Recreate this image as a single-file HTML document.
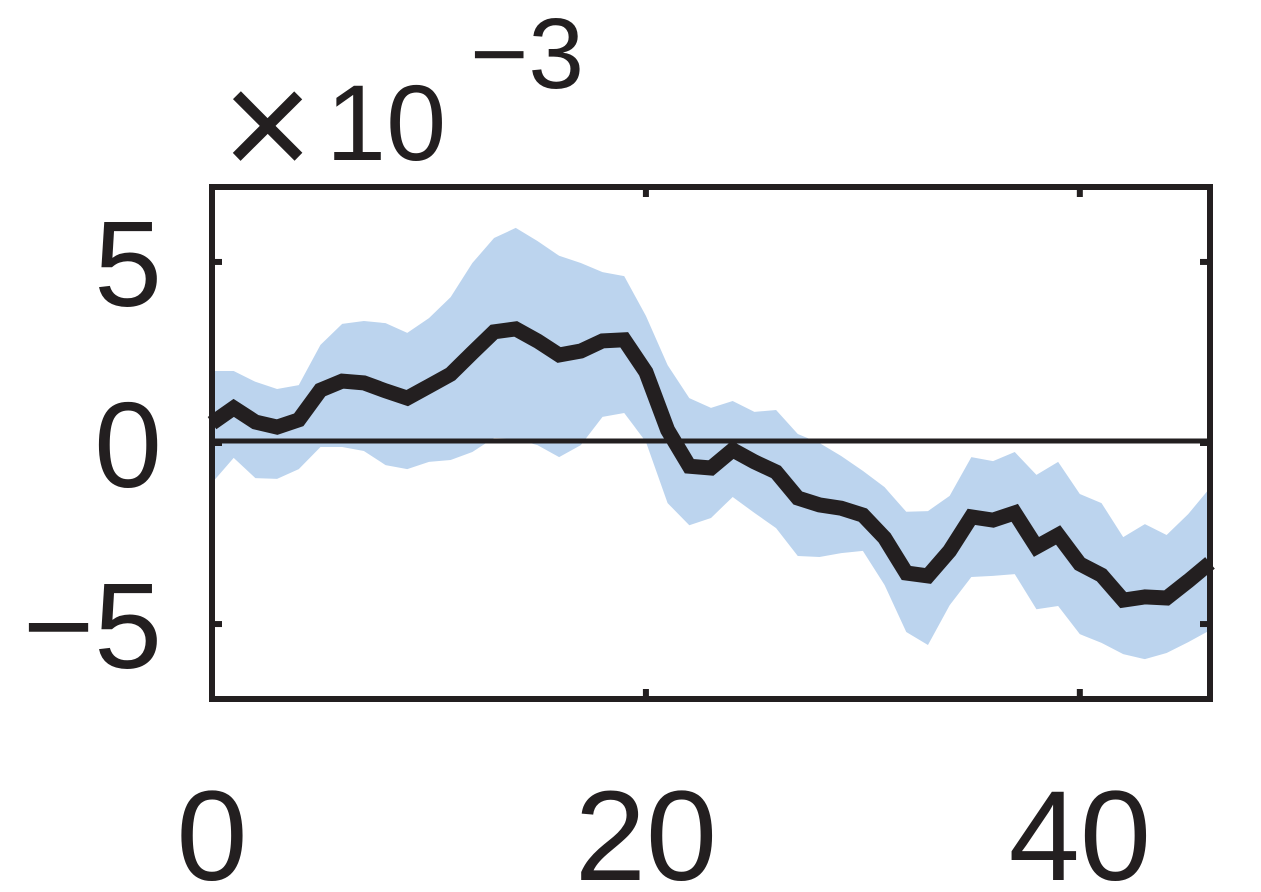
<!DOCTYPE html>
<html><head><meta charset="utf-8"><style>
html,body{margin:0;padding:0;background:#fff;}
svg{display:block;font-family:"Liberation Sans",sans-serif;}
</style></head><body>
<svg id="chart" width="1261" height="892" viewBox="0 0 1261 892" xmlns="http://www.w3.org/2000/svg">
<g id="band-layer"></g>
<line id="zero" stroke="#231f20" stroke-width="5"/>
<g id="line-layer"></g>
<rect x="212" y="187" width="998" height="512" fill="none" stroke="#231f20" stroke-width="6"/>
<g id="ticks"></g>
<g id="labels" fill="#231f20"></g>
<g fill="#231f20">
<text x="222" y="178" font-size="156">×</text>
<text x="326" y="160" font-size="108">10</text>
<text x="470" y="88" font-size="100">−3</text>
</g>
</svg>
<script>
const xs = [0,1,2,3,4,5,6,7,8,9,10,11,12,13,14,15,16,17,18,19,20,21,22,23,24,25,26,27,28,29,30,31,32,33,34,35,36,37,38,39,40,41,42,43,44,45,46];
const meanVals = [0.55,0.97,0.58,0.44,0.64,1.46,1.71,1.66,1.44,1.24,1.57,1.9,2.49,3.07,3.15,2.82,2.43,2.54,2.82,2.85,1.96,0.36,-0.64,-0.69,-0.19,-0.52,-0.8,-1.52,-1.71,-1.8,-1.99,-2.62,-3.59,-3.67,-2.98,-2.04,-2.13,-1.93,-2.87,-2.54,-3.34,-3.65,-4.34,-4.25,-4.28,-3.81,-3.31];
const upperVals = [1.99,1.99,1.69,1.49,1.6,2.71,3.29,3.37,3.31,3.04,3.45,4.03,4.97,5.66,5.94,5.58,5.17,4.97,4.72,4.61,3.51,2.15,1.24,0.97,1.16,0.86,0.91,0.25,0,-0.36,-0.77,-1.22,-1.9,-1.88,-1.46,-0.39,-0.5,-0.25,-0.88,-0.52,-1.41,-1.66,-2.6,-2.24,-2.54,-1.96,-1.24];
const lowerVals = [-1.1,-0.41,-0.97,-0.99,-0.72,-0.11,-0.11,-0.22,-0.61,-0.72,-0.52,-0.47,-0.25,0.14,0.11,-0.06,-0.39,-0.06,0.72,0.83,0.03,-1.66,-2.27,-2.07,-1.49,-1.93,-2.35,-3.12,-3.15,-3.04,-2.98,-3.92,-5.22,-5.58,-4.48,-3.7,-3.67,-3.62,-4.59,-4.5,-5.28,-5.52,-5.83,-5.97,-5.8,-5.5,-5.17];
const xTicks = [0,20,40];
const xTickLabels = ["0","20","40"];
const yTicks = [5,0,-5];
const yTickLabels = ["5","0","−5"];

const X0=212,X1=1210,Y0=187,Y1=699, xmin=0,xmax=46,ymin=-7.07,ymax=7.07;
const sx = v => X0 + (v-xmin)/(xmax-xmin)*(X1-X0);
const sy = v => Y1 - (v-ymin)/(ymax-ymin)*(Y1-Y0);
const NS="http://www.w3.org/2000/svg";
function mk(t,parent){const e=document.createElementNS(NS,t);parent.appendChild(e);return e;}

const bl=document.getElementById('band-layer');
const band=mk('polygon',bl);


let pts=xs.map((x,i)=>sx(x)+','+sy(upperVals[i]));
for(let i=xs.length-1;i>=0;i--) pts.push(sx(xs[i])+','+sy(lowerVals[i]));
band.setAttribute('points',pts.join(' '));
band.setAttribute('fill','#bcd4ee');

const z=document.getElementById('zero');
z.setAttribute('x1',X0);z.setAttribute('x2',X1);z.setAttribute('y1',sy(0)-2);z.setAttribute('y2',sy(0)-2);

const ll=document.getElementById('line-layer');
const line=mk('polyline',ll);


line.setAttribute('points',xs.map((x,i)=>sx(x)+','+sy(meanVals[i])).join(' '));
line.setAttribute('fill','none');line.setAttribute('stroke','#231f20');
line.setAttribute('stroke-width','15');line.setAttribute('stroke-linejoin','miter');

const tk=document.getElementById('ticks'), lb=document.getElementById('labels');
xTicks.forEach((v,i)=>{
  [[Y0,Y0+10],[Y1,Y1-10]].forEach(([a,b])=>{
    const l=mk('line',tk);
    
    
    l.setAttribute('x1',sx(v));l.setAttribute('x2',sx(v));l.setAttribute('y1',a);l.setAttribute('y2',b);
    l.setAttribute('stroke','#231f20');l.setAttribute('stroke-width','6');
  });
  const t=mk('text',lb);
  
  
  t.setAttribute('x',sx(v));t.setAttribute('y',880);t.setAttribute('text-anchor','middle');
  t.setAttribute('font-size','128');t.textContent=xTickLabels[i];
});
yTicks.forEach((v,i)=>{
  [[X0,X0+10],[X1,X1-10]].forEach(([a,b])=>{
    const l=mk('line',tk);
    
    
    l.setAttribute('y1',sy(v));l.setAttribute('y2',sy(v));l.setAttribute('x1',a);l.setAttribute('x2',b);
    l.setAttribute('stroke','#231f20');l.setAttribute('stroke-width','6');
  });
  const t=mk('text',lb);
  
  
  t.setAttribute('x',162);t.setAttribute('y',sy(v)+44);t.setAttribute('text-anchor','end');
  t.setAttribute('font-size','122');t.textContent=yTickLabels[i];
});
</script>
</body></html>
